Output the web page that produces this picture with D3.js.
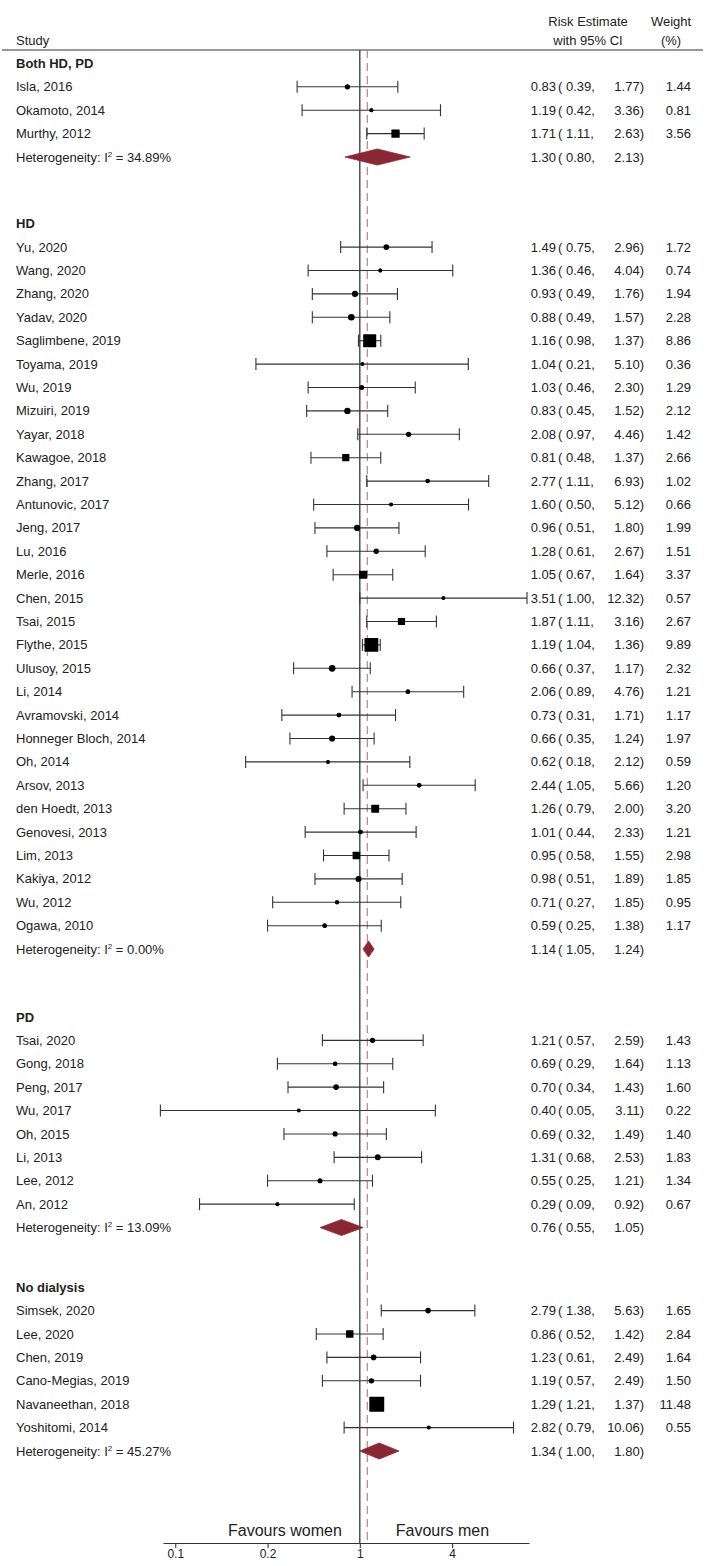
<!DOCTYPE html>
<html>
<head>
<meta charset="utf-8">
<script src="https://cdn.jsdelivr.net/npm/d3@7/dist/d3.min.js"></script>
<style>
  html, body { margin: 0; padding: 0; background: #fff; }
  svg { display: block; }
  text { font-family: "Liberation Sans", Arial, Helvetica, sans-serif; fill: #222; }
</style>
</head>
<body>
<svg id="chart" width="715" height="1566"></svg>
<script>
// ---------------- DATA ----------------
const groupNames = ["Both HD, PD", "HD", "PD", "No dialysis"];
const groupI2 = ["34.89%", "0.00%", "13.09%", "45.27%"];
const pooledEst = [1.30, 1.14, 0.76, 1.34];
const pooledLower = [0.80, 1.05, 0.55, 1.00];
const pooledUpper = [2.13, 1.24, 1.05, 1.80];

const studyNames = [
  "Isla, 2016", "Okamoto, 2014", "Murthy, 2012",
  "Yu, 2020", "Wang, 2020", "Zhang, 2020", "Yadav, 2020", "Saglimbene, 2019", "Toyama, 2019",
  "Wu, 2019", "Mizuiri, 2019", "Yayar, 2018", "Kawagoe, 2018", "Zhang, 2017", "Antunovic, 2017",
  "Jeng, 2017", "Lu, 2016", "Merle, 2016", "Chen, 2015", "Tsai, 2015", "Flythe, 2015",
  "Ulusoy, 2015", "Li, 2014", "Avramovski, 2014", "Honneger Bloch, 2014", "Oh, 2014", "Arsov, 2013",
  "den Hoedt, 2013", "Genovesi, 2013", "Lim, 2013", "Kakiya, 2012", "Wu, 2012", "Ogawa, 2010",
  "Tsai, 2020", "Gong, 2018", "Peng, 2017", "Wu, 2017", "Oh, 2015", "Li, 2013", "Lee, 2012", "An, 2012",
  "Simsek, 2020", "Lee, 2020", "Chen, 2019", "Cano-Megias, 2019", "Navaneethan, 2018", "Yoshitomi, 2014"
];
const studyGroup = [
  0, 0, 0,
  1, 1, 1, 1, 1, 1, 1, 1, 1, 1, 1, 1, 1, 1, 1, 1, 1, 1, 1, 1, 1, 1, 1, 1, 1, 1, 1, 1, 1, 1,
  2, 2, 2, 2, 2, 2, 2, 2,
  3, 3, 3, 3, 3, 3
];
const studyEst = [
  0.83, 1.19, 1.71,
  1.49, 1.36, 0.93, 0.88, 1.16, 1.04, 1.03, 0.83, 2.08, 0.81, 2.77, 1.60, 0.96, 1.28, 1.05, 3.51,
  1.87, 1.19, 0.66, 2.06, 0.73, 0.66, 0.62, 2.44, 1.26, 1.01, 0.95, 0.98, 0.71, 0.59,
  1.21, 0.69, 0.70, 0.40, 0.69, 1.31, 0.55, 0.29,
  2.79, 0.86, 1.23, 1.19, 1.29, 2.82
];
const studyLower = [
  0.39, 0.42, 1.11,
  0.75, 0.46, 0.49, 0.49, 0.98, 0.21, 0.46, 0.45, 0.97, 0.48, 1.11, 0.50, 0.51, 0.61, 0.67, 1.00,
  1.11, 1.04, 0.37, 0.89, 0.31, 0.35, 0.18, 1.05, 0.79, 0.44, 0.58, 0.51, 0.27, 0.25,
  0.57, 0.29, 0.34, 0.05, 0.32, 0.68, 0.25, 0.09,
  1.38, 0.52, 0.61, 0.57, 1.21, 0.79
];
const studyUpper = [
  1.77, 3.36, 2.63,
  2.96, 4.04, 1.76, 1.57, 1.37, 5.10, 2.30, 1.52, 4.46, 1.37, 6.93, 5.12, 1.80, 2.67, 1.64, 12.32,
  3.16, 1.36, 1.17, 4.76, 1.71, 1.24, 2.12, 5.66, 2.00, 2.33, 1.55, 1.89, 1.85, 1.38,
  2.59, 1.64, 1.43, 3.11, 1.49, 2.53, 1.21, 0.92,
  5.63, 1.42, 2.49, 2.49, 1.37, 10.06
];
const studyWeight = [
  1.44, 0.81, 3.56,
  1.72, 0.74, 1.94, 2.28, 8.86, 0.36, 1.29, 2.12, 1.42, 2.66, 1.02, 0.66, 1.99, 1.51, 3.37, 0.57,
  2.67, 9.89, 2.32, 1.21, 1.17, 1.97, 0.59, 1.20, 3.20, 1.21, 2.98, 1.85, 0.95, 1.17,
  1.43, 1.13, 1.60, 0.22, 1.40, 1.83, 1.34, 0.67,
  1.65, 2.84, 1.64, 1.50, 11.48, 0.55
];
const overallEstimate = 1.12;                 // dashed reference line
const tickValues = [0.0625, 0.25, 1, 4];
const tickLabels = ["0.1", "0.2", "1", "4"];
const sideLabels = ["Favours women", "Favours men"];

// ---------------- LAYOUT ----------------
const sectionGap = [0, 1.85, 1.9, 1.55];   // extra empty rows before each section header
const svg = d3.select("#chart");
const fmt = d3.format(".2f");

const rows = [];
let slot = 0;
groupNames.forEach((gname, gi) => {
  slot += sectionGap[gi];
  rows.push({type: "header", label: gname, slot: slot});
  slot += 1;
  studyNames.forEach((n, i) => {
    if (studyGroup[i] !== gi) return;
    rows.push({type: "study", label: n, est: studyEst[i], lo: studyLower[i], hi: studyUpper[i], w: studyWeight[i], slot: slot});
    slot += 1;
  });
  rows.push({type: "pooled", i2: groupI2[gi], est: pooledEst[gi], lo: pooledLower[gi], hi: pooledUpper[gi], slot: slot});
  slot += 1;
});

const y = d3.scaleLinear().domain([0, 1]).range([63.4, 63.4 + 23.4]);
const x = d3.scaleLog().domain([0.052, 12.7]).range([163, 529]);
const size = d3.scaleSqrt().domain([0, 1]).range([0, 4.4]);

const headerLineY = 50;
const axisY = 1543;
const FS = 13;

// header
svg.append("text").attr("x", 16).attr("y", 40).attr("dy", "0.35em").attr("font-size", FS).text("Study");
svg.append("text").attr("x", 588).attr("y", 21).attr("dy", "0.35em").attr("text-anchor", "middle").attr("font-size", FS).text("Risk Estimate");
svg.append("text").attr("x", 588).attr("y", 40).attr("dy", "0.35em").attr("text-anchor", "middle").attr("font-size", FS).text("with 95% CI");
svg.append("text").attr("x", 671).attr("y", 21).attr("dy", "0.35em").attr("text-anchor", "middle").attr("font-size", FS).text("Weight");
svg.append("text").attr("x", 671).attr("y", 40).attr("dy", "0.35em").attr("text-anchor", "middle").attr("font-size", FS).text("(%)");
svg.append("line").attr("x1", 2).attr("x2", 703).attr("y1", headerLineY).attr("y2", headerLineY)
  .attr("stroke", "#333").attr("stroke-width", 1.2);

// reference lines
svg.append("line").attr("x1", x(1)).attr("x2", x(1)).attr("y1", headerLineY).attr("y2", axisY)
  .attr("stroke", "#333").attr("stroke-width", 1.3);
svg.append("line").attr("x1", x(overallEstimate)).attr("x2", x(overallEstimate)).attr("y1", headerLineY).attr("y2", axisY)
  .attr("stroke", "#c58a8a").attr("stroke-width", 1.3).attr("stroke-dasharray", "8,5");

// rows
const g = svg.append("g");
rows.forEach(r => {
  const yy = y(r.slot);
  if (r.type === "header") {
    g.append("text").attr("x", 16).attr("y", yy).attr("dy", "0.35em").attr("font-size", FS)
      .attr("font-weight", "bold").text(r.label);
    return;
  }
  if (r.type === "study") {
    g.append("text").attr("x", 16).attr("y", yy).attr("dy", "0.35em").attr("font-size", FS).text(r.label);
    g.append("line").attr("x1", x(r.lo)).attr("x2", x(r.hi)).attr("y1", yy).attr("y2", yy)
      .attr("stroke", "#333").attr("stroke-width", 1.1);
    [r.lo, r.hi].forEach(v => {
      g.append("line").attr("x1", x(v)).attr("x2", x(v)).attr("y1", yy - 6).attr("y2", yy + 6)
        .attr("stroke", "#333").attr("stroke-width", 1.1);
    });
    const s = size(r.w);
    g.append("rect").attr("x", x(r.est) - s / 2).attr("y", yy - s / 2).attr("width", s).attr("height", s)
      .attr("rx", s < 7 ? s / 2 : 0.5).attr("fill", "#000");
    g.append("circle").attr("cx", x(r.est)).attr("cy", yy).attr("r", 2).attr("fill", "#000");
    g.append("text").attr("x", 691).attr("y", yy).attr("dy", "0.35em").attr("text-anchor", "end")
      .attr("font-size", FS).text(fmt(r.w));
  } else {
    const t = g.append("text").attr("x", 16).attr("y", yy).attr("dy", "0.35em").attr("font-size", FS);
    t.append("tspan").text("Heterogeneity: I");
    t.append("tspan").attr("font-size", 8).attr("dy", -5).text("2");
    t.append("tspan").attr("dy", 5).text(" = " + r.i2);
    const pts = [[x(r.lo), yy], [x(r.est), yy - 8], [x(r.hi), yy], [x(r.est), yy + 8]];
    g.append("path").attr("d", d3.line()(pts) + "Z").attr("fill", "#8b2733").attr("stroke", "#8b2733").attr("stroke-width", 0.8);
  }
  g.append("text").attr("x", 556).attr("y", yy).attr("dy", "0.35em").attr("text-anchor", "end")
    .attr("font-size", FS).text(fmt(r.est));
  g.append("text").attr("x", 558).attr("y", yy).attr("dy", "0.35em").attr("text-anchor", "start")
    .attr("font-size", FS).text("( " + fmt(r.lo) + ",");
  g.append("text").attr("x", 644).attr("y", yy).attr("dy", "0.35em").attr("text-anchor", "end")
    .attr("font-size", FS).text(fmt(r.hi) + ")");
});

// favours labels
svg.append("text").attr("x", x(1) - 18).attr("y", 1530).attr("dy", "0.35em").attr("text-anchor", "end")
  .attr("font-size", 16).text(sideLabels[0]);
svg.append("text").attr("x", x(1) + 36).attr("y", 1530).attr("dy", "0.35em").attr("text-anchor", "start")
  .attr("font-size", 16).text(sideLabels[1]);

// axis
const axis = d3.axisBottom(x).tickValues(tickValues).tickFormat((d, i) => tickLabels[i])
  .tickSize(5).tickSizeOuter(0);
const ag = svg.append("g").attr("transform", `translate(0,${axisY})`).call(axis);
ag.select(".domain").attr("stroke", "#333").attr("stroke-width", 1.2);
ag.selectAll(".tick line").attr("stroke", "#333").attr("stroke-width", 1.1);
ag.selectAll(".tick text").attr("font-size", 12).attr("fill", "#222")
  .style("font-family", "'Liberation Sans', Arial, sans-serif").attr("dy", "0.6em");
</script>
</body>
</html>
